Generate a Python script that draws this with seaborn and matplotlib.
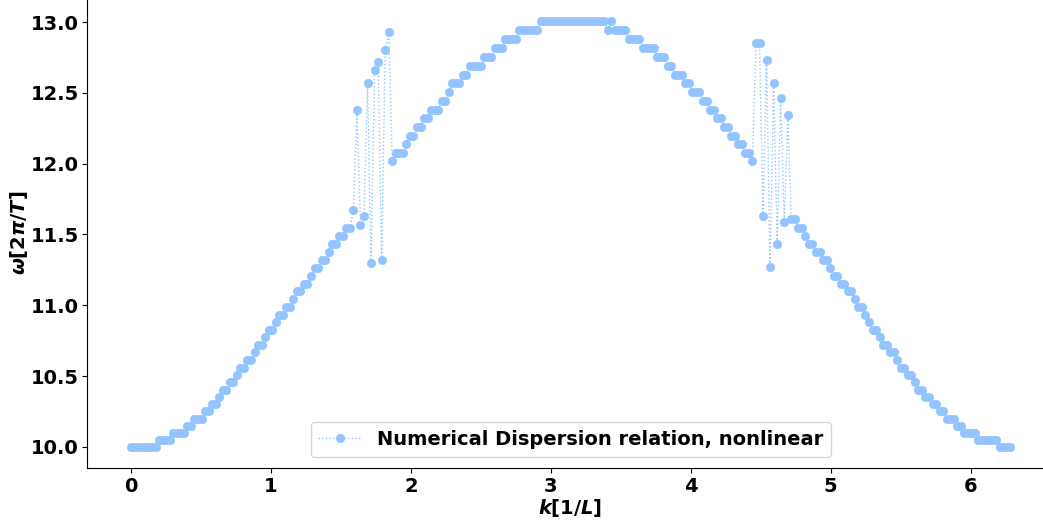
import numpy as np
import pandas as pd
import matplotlib
matplotlib.use("Agg")
import matplotlib.pyplot as plt
import seaborn as sns

# Frequency samples along the wavenumber axis (k from 0 to 2*pi, uniform grid)
omega_rising = [
    10.000, 10.000, 10.000, 10.000, 10.000, 10.000, 10.000, 10.000, 10.050, 10.050,
    10.050, 10.050, 10.100, 10.100, 10.100, 10.100, 10.150, 10.150, 10.201, 10.201,
    10.201, 10.251, 10.251, 10.302, 10.302, 10.354, 10.405, 10.405, 10.457, 10.457,
    10.509, 10.561, 10.561, 10.614, 10.614, 10.667, 10.720, 10.720, 10.773, 10.827,
    10.827, 10.881, 10.935, 10.935, 10.989, 10.989, 11.044, 11.099, 11.099, 11.154,
    11.154, 11.210, 11.265, 11.265, 11.321, 11.321, 11.378, 11.434, 11.434, 11.491,
    11.491, 11.549, 11.549, 11.67, 12.38, 11.57, 11.63, 12.57, 11.30, 12.66,
    12.72, 11.32, 12.80, 12.93, 12.017, 12.076, 12.076, 12.076, 12.136, 12.197,
    12.197, 12.258, 12.258, 12.319, 12.319, 12.380, 12.380, 12.380, 12.442, 12.442,
    12.503, 12.566, 12.566, 12.566, 12.628, 12.628, 12.691, 12.691, 12.691, 12.691,
    12.754, 12.754, 12.754, 12.818, 12.818, 12.818, 12.882, 12.882, 12.882, 12.882,
]
omega_top = [
    12.946, 12.946, 12.946, 12.946, 12.946, 12.946, 13.010, 13.010, 13.010, 13.010,
    13.010, 13.010, 13.010, 13.010, 13.010, 13.010, 13.010, 13.010, 13.010, 13.010,
    13.010, 13.010, 13.010, 13.010, 13.010, 12.946, 13.010, 12.946, 12.946, 12.946,
    12.946,
]
omega_falling = [
    12.882, 12.882, 12.882, 12.882, 12.818, 12.818, 12.818, 12.818, 12.754,
    12.754, 12.754, 12.691, 12.691, 12.628, 12.628, 12.628, 12.566, 12.566, 12.503,
    12.503, 12.503, 12.442, 12.442, 12.380, 12.380, 12.319, 12.319, 12.258, 12.258,
    12.197, 12.197, 12.136, 12.136, 12.076, 12.076, 12.017, 12.85, 12.85, 11.63,
    12.73, 11.27, 12.57, 11.43, 12.46, 11.59, 12.34, 11.606, 11.606, 11.549,
    11.549, 11.491, 11.434, 11.434, 11.378, 11.378, 11.321, 11.321, 11.265, 11.210,
    11.210, 11.154, 11.154, 11.099, 11.099, 11.044, 10.989, 10.989, 10.935, 10.881,
    10.827, 10.827, 10.773, 10.720, 10.720, 10.667, 10.667, 10.614, 10.561, 10.561,
    10.509, 10.509, 10.457, 10.405, 10.405, 10.354, 10.354, 10.302, 10.302, 10.251,
    10.251, 10.201, 10.201, 10.201, 10.150, 10.150, 10.100, 10.100, 10.100, 10.100,
    10.050, 10.050, 10.050, 10.050, 10.050, 10.050, 10.000, 10.000, 10.000, 10.000,
]

omega = omega_rising + omega_top + omega_falling
k = np.linspace(0.0, 2.0 * np.pi, len(omega))

series_label = "Numerical Dispersion relation, nonlinear"
x_tick_values = [0, 1, 2, 3, 4, 5, 6]
y_tick_values = [10.0, 10.5, 11.0, 11.5, 12.0, 12.5, 13.0]

line_color = "#93c4ff"

plt.rcParams.update({
    "font.family": ["DejaVu Sans"],
    "font.weight": "bold",
    "font.size": 14,
    "axes.labelweight": "bold",
    "mathtext.fontset": "custom",
    "mathtext.it": "DejaVu Sans:italic:bold",
    "mathtext.rm": "DejaVu Sans:bold",
    "mathtext.bf": "DejaVu Sans:bold",
})

fig = plt.figure(figsize=(10.43, 5.2), dpi=100)
ax = fig.add_axes([0.0834, 0.0993, 0.9273, 0.9066])

df = pd.DataFrame({"k": k, "omega": omega})
sns.lineplot(
    data=df, x="k", y="omega", ax=ax,
    color=line_color, linestyle=":", linewidth=1.0,
    marker="o", markersize=6, markeredgewidth=0.5,
    markeredgecolor=line_color, label=series_label,
)

ax.set_xlim(-0.314, 6.597)
ax.set_ylim(9.849, 13.177)
ax.set_xticks(x_tick_values)
ax.set_yticks(y_tick_values)
ax.set_xticklabels([str(v) for v in x_tick_values])
ax.set_yticklabels([f"{v:.1f}" for v in y_tick_values])
ax.tick_params(labelsize=14, pad=2.5)

ax.set_xlabel(r"$k[1/L]$", fontsize=14, labelpad=1)
ax.set_ylabel(r"$\omega[2\pi/T]$", fontsize=14, labelpad=0)

for side in ("top", "right"):
    ax.spines[side].set_visible(False)

ax.legend(loc="lower center", prop={"weight": "bold", "size": 14},
          handlelength=2.2, borderaxespad=0.6)

fig.savefig("out.png", dpi=100)
